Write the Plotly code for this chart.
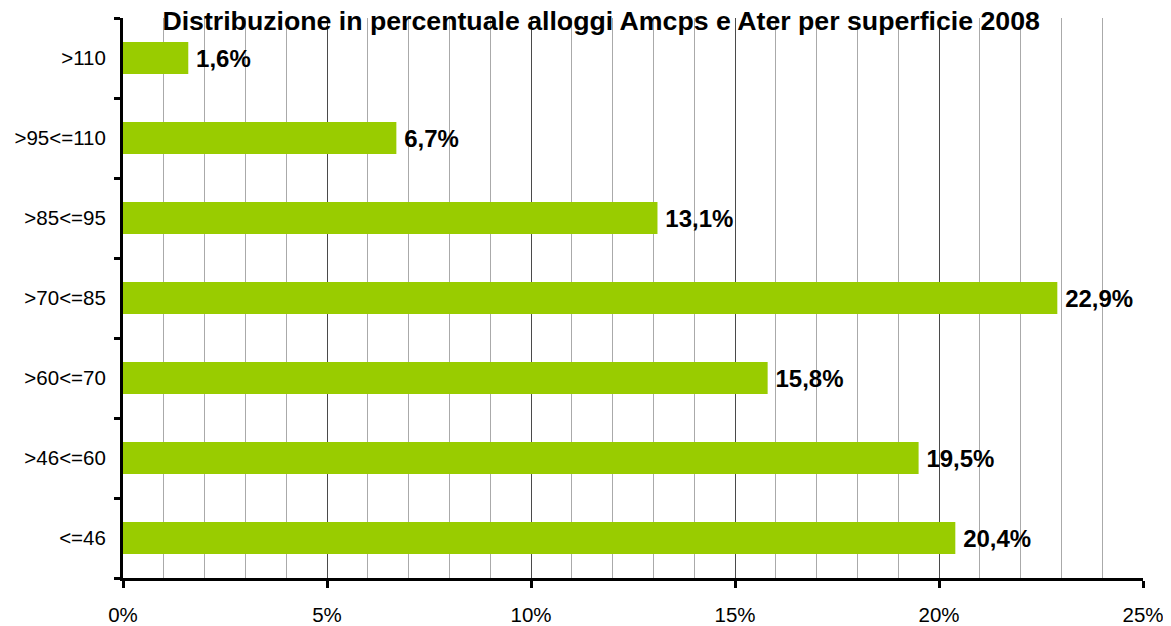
import plotly.graph_objects as go

categories = ["<=46", ">46<=60", ">60<=70", ">70<=85", ">85<=95", ">95<=110", ">110"]
values = [20.4, 19.5, 15.8, 22.9, 13.1, 6.7, 1.6]
x_ticks = [0, 5, 10, 15, 20, 25]
x_tick_labels = ["0%", "5%", "10%", "15%", "20%", "25%"]
title_text = "Distribuzione in percentuale alloggi Amcps e Ater per superficie 2008"

fig = go.Figure(go.Bar(
    x=values, y=categories, orientation="h",
    marker=dict(color="#99cc00", line=dict(width=0)),
    texttemplate="\u2009%{x:.1f}%", textposition="outside",
    textfont=dict(family="Liberation Sans, Arial", size=24, color="#000000", weight="bold"),
    cliponaxis=False,
))

fig.update_layout(
    width=1163, height=618,
    margin=dict(l=115, r=28, t=10, b=48, autoexpand=False),
    paper_bgcolor="white", plot_bgcolor="white",
    separators=",.",
    bargap=0.6,
    showlegend=False,
    font=dict(family="Liberation Sans, Arial", size=20.5, color="#000000"),
    title=dict(text="<b>" + title_text + "</b>", x=0.510, xanchor="center",
               y=1.0, yref="container", yanchor="top", pad=dict(t=3, b=0),
               font=dict(size=26.7, color="#000000")),
    xaxis=dict(range=[0, 25], tickvals=x_ticks, ticktext=x_tick_labels,
               automargin=False,
               showline=True, linecolor="black", linewidth=3,
               ticks="outside", ticklen=7, tickwidth=3, tickcolor="black",
               showgrid=True, gridcolor="#4a4a4a", gridwidth=1,
               minor=dict(dtick=1, showgrid=True, gridcolor="#aaaaaa", gridwidth=1, ticks=""),
               zeroline=False, tickfont=dict(size=20.5), ticklabelstandoff=9),
    yaxis=dict(categoryorder="array", categoryarray=categories,
               automargin=False,
               showline=True, linecolor="black", linewidth=3,
               ticks="outside", tickson="boundaries", ticklen=6, tickwidth=3, tickcolor="black",
               showgrid=False, tickfont=dict(size=20.5), ticklabelstandoff=10),
)

fig.write_html("out.html")
